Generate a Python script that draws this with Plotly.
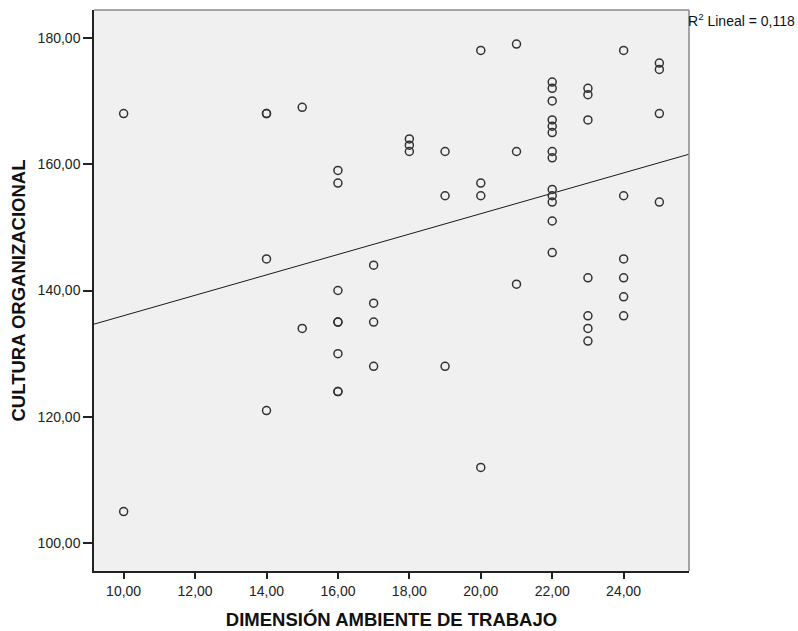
import numpy as np
import plotly.graph_objects as go

# Data (x = DIMENSIÓN AMBIENTE DE TRABAJO, y = CULTURA ORGANIZACIONAL)
x_vals = [10, 10,
          14, 14, 14, 14,
          15, 15,
          16, 16, 16, 16, 16, 16, 16, 16,
          17, 17, 17, 17,
          18, 18, 18,
          19, 19, 19,
          20, 20, 20, 20,
          21, 21, 21,
          22, 22, 22, 22, 22, 22, 22, 22, 22, 22, 22, 22, 22,
          23, 23, 23, 23, 23, 23, 23,
          24, 24, 24, 24, 24, 24,
          25, 25, 25, 25]
y_vals = [168, 105,
          168, 168, 145, 121,
          169, 134,
          159, 157, 140, 135, 135, 130, 124, 124,
          144, 138, 135, 128,
          164, 163, 162,
          162, 155, 128,
          178, 157, 155, 112,
          179, 162, 141,
          173, 172, 170, 167, 166, 165, 162, 161, 156, 155, 154, 151, 146,
          172, 171, 167, 142, 136, 134, 132,
          178, 155, 145, 142, 139, 136,
          176, 175, 168, 154]

x_ticks = [10, 12, 14, 16, 18, 20, 22, 24]
y_ticks = [100, 120, 140, 160, 180]
x_range = [9.17, 25.83]
y_range = [95.6, 184.4]
x_title = "DIMENSIÓN AMBIENTE DE TRABAJO"
y_title = "CULTURA ORGANIZACIONAL"

x = np.array(x_vals, dtype=float)
y = np.array(y_vals, dtype=float)
slope, intercept = np.polyfit(x, y, 1)
fit_x = np.array(x_range)
fit_y = intercept + slope * fit_x
r2 = np.corrcoef(x, y)[0, 1] ** 2

FONT = "Liberation Sans, Arial, sans-serif"

fig = go.Figure()
fig.add_trace(go.Scatter(
    x=fit_x, y=fit_y, mode="lines",
    line=dict(color="#1a1a1a", width=1), hoverinfo="skip", showlegend=False))
fig.add_trace(go.Scatter(
    x=x, y=y, mode="markers",
    marker=dict(symbol="circle-open", size=8, color="#333333",
                line=dict(width=1.5, color="#333333")),
    showlegend=False))

fig.update_layout(
    width=798, height=631,
    margin=dict(l=94, r=109, t=10, b=60, autoexpand=False),
    paper_bgcolor="white", plot_bgcolor="#f0f0f0",
    separators=",.",
    font=dict(family=FONT, color="#222222"),
    xaxis=dict(range=x_range, tickvals=x_ticks, tickformat=".2f",
               showgrid=False, zeroline=False, automargin=False,
               showline=True, linecolor="#222222", linewidth=1.5,
               ticks="outside", ticklen=6, tickcolor="#222222", tickwidth=1.5,
               tickfont=dict(size=14, color="#222222"),
               title=dict(text=x_title, standoff=16,
                          font=dict(size=18.5, color="#111111", family=FONT, weight="bold"))),
    yaxis=dict(range=y_range, tickvals=y_ticks, tickformat=".2f",
               showgrid=False, zeroline=False, automargin=False,
               showline=True, linecolor="#222222", linewidth=1.5,
               ticks="outside", ticklen=9, tickcolor="#222222", tickwidth=1.5,
               tickfont=dict(size=14, color="#222222"),
               title=dict(text=y_title, standoff=7,
                          font=dict(size=18.5, color="#111111", family=FONT, weight="bold"))),
    shapes=[
        dict(type="line", xref="paper", yref="paper", x0=0, x1=1, y0=1, y1=1,
             line=dict(color="#8a8a8a", width=1.5)),
        dict(type="line", xref="paper", yref="paper", x0=1, x1=1, y0=0, y1=1,
             line=dict(color="#8a8a8a", width=1.5)),
    ],
    annotations=[dict(
        xref="paper", yref="paper", x=1, y=1, xanchor="left", yanchor="top",
        text="R<sup>2</sup> Lineal = " + f"{r2:.3f}".replace(".", ","),
        showarrow=False, xshift=-3, yshift=1, font=dict(size=14, color="#111111", family=FONT))],
)

fig.write_html("out.html")
